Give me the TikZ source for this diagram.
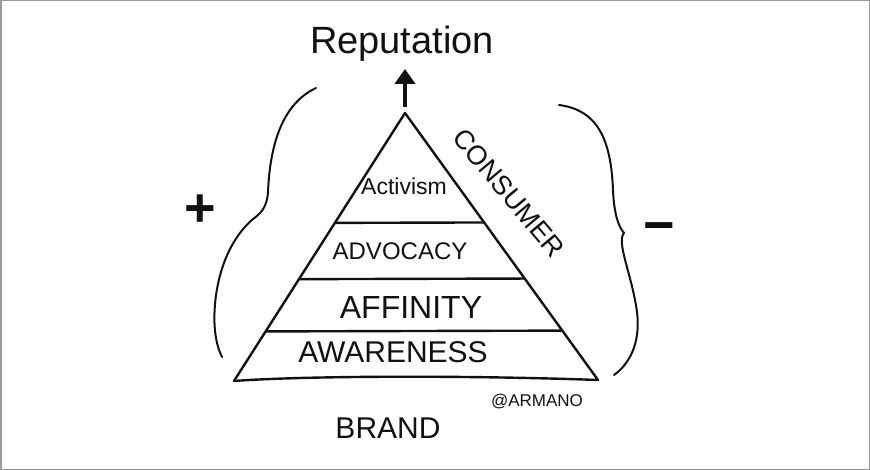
\documentclass[tikz,border=0pt]{standalone}
\usepackage{fontspec}
\setmainfont{Liberation Sans}
\usepackage{tikz}
\usetikzlibrary{arrows.meta,positioning,calc}
\definecolor{ink}{HTML}{111111}
\definecolor{frm}{HTML}{9A9A9A}
\tikzset{
  lbl/.style ={inner sep=0pt, text=ink},
  lyr/.style ={lbl, font=\fontsize{26}{26}\selectfont},
  edg/.style ={draw=ink, line width=2.4pt, line cap=round, line join=round},
  brc/.style ={draw=ink, line width=2pt, line cap=round},
  ar/.style  ={-{Triangle[length=15pt,width=20pt]}, draw=ink, line width=4pt},
}
\begin{document}
\begin{tikzpicture}[x=1pt,y=-1pt]
\useasboundingbox (0,0) rectangle (870,470);
\draw[frm, line width=1.5pt] (0.75,0.75) rectangle (869.25,469.25);
% pyramid
\coordinate (apex) at (405,113);
\coordinate (bl) at (234,381);
\coordinate (br) at (598,380);
\draw[edg] (bl) -- (apex) -- (br);
\draw[edg] (bl) .. controls (300,376) and (460,375) .. (br);
\foreach \t in {0.41,0.62,0.815}{\draw[edg] ($(apex)!\t!(bl)$) -- ($(apex)!\t!(br)$);}
% layers
\node[lyr, font=\fontsize{23}{23}\selectfont] (act) at (404,186) {Activism};
\node[lyr, font=\fontsize{24}{24}\selectfont] (adv) at (400,251) {ADVOCACY};
\node[lyr, font=\fontsize{32}{32}\selectfont] (aff) at (411,307) {AFFINITY};
\node[lyr, font=\fontsize{30}{30}\selectfont] (awa) at (393,352) {AWARENESS};
\node[lbl, font=\fontsize{27}{27}\selectfont, rotate=-50] (con) at (509,193) {CONSUMER};
% top and bottom
\node[lbl, font=\fontsize{38}{38}\selectfont] (rep) at (402,44) {Reputation};
\node[lbl, font=\fontsize{30}{30}\selectfont] (brd) at (388,428) {BRAND};
\node[lbl, font=\fontsize{17}{17}\selectfont] (sig) at (537,402) {@ARMANO};
\draw[ar, shorten <=6pt, shorten >=7pt] (apex) -- (apex |- rep.south);
% braces
\draw[brc] (316,88) .. controls (282,104) and (270,145) .. (268,192)
  .. controls (267,208) and (260,214) .. (253,219)
  .. controls (238,232) and (222,255) .. (216,295)
  .. controls (212,325) and (216,345) .. (222,357);
\node[lbl, font=\bfseries\fontsize{54}{54}\selectfont] (plus) at (200,211) {+};
\draw[brc] (559,105) .. controls (598,110) and (611,140) .. (613,190)
  .. controls (614,213) and (618,226) .. (624,233)
  .. controls (616,242) and (632,275) .. (637,312)
  .. controls (641,345) and (628,365) .. (614,375);
\node[lbl, font=\bfseries\fontsize{54}{54}\selectfont] (minus) at (659,233) {−};
\end{tikzpicture}
\end{document}
